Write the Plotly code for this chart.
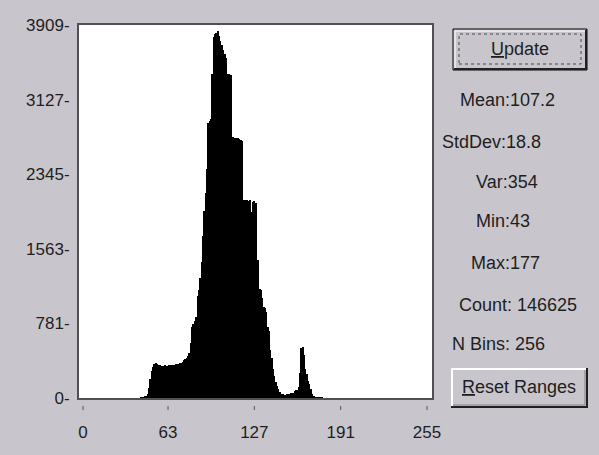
import plotly.graph_objects as go

# ---------------- data ----------------
n_bins = 256
first_bin = 43
counts_43_177 = [
    4, 6, 9, 14, 25,                                   # 43-47
    40, 100, 200, 280, 330, 355, 365, 360,             # 48-55
    345, 342, 340, 338, 340, 342, 340, 338, 342, 345,  # 56-65
    345, 348, 350, 352, 355, 358, 362, 370,            # 66-73
    380, 400, 410, 420, 440,                           # 74-78
    470, 580, 740, 780, 810, 850, 1070, 1130, 1260, 1430,   # 79-88
    1700, 1960, 2150, 2400, 2880, 2900, 2920, 3400, 3780, 3810,  # 89-98
    3830, 3850, 3790, 3740, 3700, 3650, 3600, 3560, 3400, 3400,  # 99-108
    3390, 3380, 2740, 2730, 2730, 2720, 2720, 2710, 2700, 2690,  # 109-118
    2080, 2075, 2070, 2080, 2060, 2070, 1950, 2050, 2060, 2040,  # 119-128
    1450, 1445, 1140, 1130, 1050, 950, 940, 900, 745, 700,       # 129-138
    500, 420, 300, 230, 170, 130, 90, 60, 45, 40,                # 139-148
    35, 35, 40, 40, 45, 50, 50, 55, 70, 80,                      # 149-158
    85, 120, 260, 520, 530, 450, 300, 250, 180, 150,             # 159-168
    90, 40, 15, 8, 5, 3, 2, 1, 1,                                # 169-177
]
counts = [0] * n_bins
for i, c in enumerate(counts_43_177):
    counts[first_bin + i] = c
bins = list(range(n_bins))

y_tick_vals = [0, 781, 1563, 2345, 3127, 3909]
y_tick_text = ["0-", "781-", "1563-", "2345-", "3127-", "3909-"]
x_tick_vals = [0, 63, 127, 191, 255]
x_tick_text = ["0", "63", "127", "191", "255"]

stats_labels = ["Mean:107.2", "StdDev:18.8", "Var:354", "Min:43", "Max:177",
                "Count: 146625", "N Bins: 256"]

# ---------------- layout geometry ----------------
W, H = 599, 455
L, R, T, B = 79, 167, 25, 57
PW, PH = W - L - R, H - T - B
BG = "#c8c6cc"
FONT = "Liberation Sans, Arial, sans-serif"
TXT = "#1e1e1e"


def px_x(px):
    return (px - L) / PW


def px_y(py):
    return (H - B - py) / PH


fig = go.Figure()
fig.add_trace(go.Bar(x=bins, y=counts, width=1.0,
                     marker=dict(color="black", line=dict(width=0)),
                     hoverinfo="skip"))

shapes = []
# x tick marks, detached below the axis
for v in x_tick_vals:
    shapes.append(dict(type="line", xref="x", yref="paper", x0=v, x1=v,
                       y0=-8 / PH, y1=-12 / PH,
                       line=dict(color="#555555", width=1)))


def rect(left, top, right, bottom, **kw):
    d = dict(type="rect", xref="paper", yref="paper",
             x0=px_x(left), x1=px_x(right), y0=px_y(bottom), y1=px_y(top), layer="above")
    d.update(kw)
    return d


def line(x0, y0, x1, y1, color, width=1, dash="solid"):
    return dict(type="line", xref="paper", yref="paper",
                x0=px_x(x0), x1=px_x(x1), y0=px_y(y0), y1=px_y(y1),
                line=dict(color=color, width=width, dash=dash))


# Update button (default button with black frame and focus rect)
shapes.append(rect(453, 29, 587, 70, fillcolor=BG, line=dict(color="black", width=1)))
shapes.append(line(455, 31, 585, 31, "white", 1))
shapes.append(line(455, 31, 455, 68, "white", 1))
shapes.append(line(454, 69, 587, 69, "#202020", 2))
shapes.append(line(586, 30, 586, 70, "#202020", 2))
shapes.append(rect(459, 34, 581, 64, fillcolor="rgba(0,0,0,0)",
                   line=dict(color="#444444", width=1, dash="dot")))

# Reset Ranges button
shapes.append(rect(451, 368, 587, 408, fillcolor=BG, line=dict(color=BG, width=0)))
shapes.append(line(451, 369, 586, 369, "white", 2))
shapes.append(line(452, 369, 452, 407, "white", 2))
shapes.append(line(451, 407, 588, 407, "#202020", 2))
shapes.append(line(587, 368, 587, 408, "#202020", 2))
shapes.append(line(453, 405, 585, 405, "#808080", 1))
shapes.append(line(585, 370, 585, 405, "#808080", 1))

annotations = []
stat_pos = [(507, 100), (491, 142), (507, 182), (503, 221), (505, 263),
            (518, 305), (498, 344)]
for txt, (cx, cy) in zip(stats_labels, stat_pos):
    annotations.append(dict(text=txt, xref="paper", yref="paper", x=px_x(cx), y=px_y(cy),
                            xanchor="center", yanchor="middle", showarrow=False,
                            font=dict(family=FONT, size=18, color=TXT)))
annotations.append(dict(text="<u>U</u>pdate", xref="paper", yref="paper",
                        x=px_x(520), y=px_y(49), xanchor="center", yanchor="middle",
                        showarrow=False, font=dict(family=FONT, size=18, color=TXT)))
annotations.append(dict(text="<u>R</u>eset Ranges", xref="paper", yref="paper",
                        x=px_x(519), y=px_y(387), xanchor="center", yanchor="middle",
                        showarrow=False, font=dict(family=FONT, size=18, color=TXT)))

fig.update_layout(
    width=W, height=H,
    margin=dict(l=L, r=R, t=T, b=B, pad=0),
    paper_bgcolor=BG, plot_bgcolor="white",
    bargap=0, showlegend=False,
    font=dict(family=FONT, size=17, color=TXT),
    shapes=shapes, annotations=annotations,
    xaxis=dict(range=[-3, 258.7], tickvals=x_tick_vals, ticktext=x_tick_text,
               ticks="", showgrid=False, zeroline=False,
               showline=True, linecolor="#505050", linewidth=2, mirror=True,
               ticklabelstandoff=18, fixedrange=True),
    yaxis=dict(range=[0, 3909], tickvals=y_tick_vals, ticktext=y_tick_text,
               ticks="", showgrid=False, zeroline=False,
               showline=True, linecolor="#505050", linewidth=2, mirror=True,
               ticklabelstandoff=4, fixedrange=True),
)

fig.write_html("out.html")
